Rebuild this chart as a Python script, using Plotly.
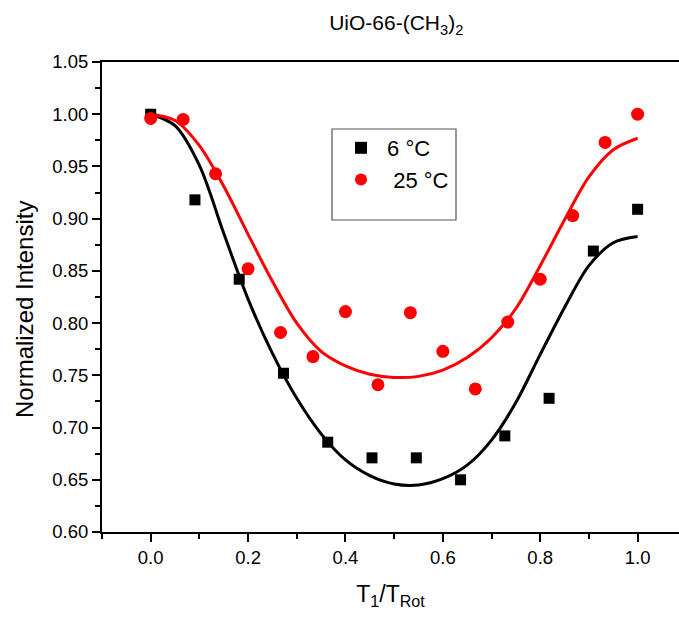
import plotly.graph_objects as go

# ---- data ----
x_6C = [0.0, 0.0909, 0.1818, 0.2727, 0.3636, 0.4545, 0.5455, 0.6364, 0.7273, 0.8182, 0.9091, 1.0]
y_6C = [1.000, 0.918, 0.842, 0.752, 0.686, 0.671, 0.671, 0.650, 0.692, 0.728, 0.869, 0.909]

x_25C = [0.0, 0.0667, 0.1333, 0.2, 0.2667, 0.3333, 0.4, 0.4667, 0.5333, 0.6, 0.6667, 0.7333,
         0.8, 0.8667, 0.9333, 1.0]
y_25C = [0.996, 0.995, 0.943, 0.852, 0.791, 0.768, 0.811, 0.741, 0.810, 0.773, 0.737, 0.801,
         0.842, 0.903, 0.973, 1.000]

fit_x = [0.0, 0.05, 0.1, 0.15, 0.2, 0.25, 0.3, 0.35, 0.4, 0.45, 0.5, 0.55, 0.6, 0.65, 0.7,
         0.75, 0.8, 0.85, 0.9, 0.95, 1.0]
fit_6C = [1.000, 0.989, 0.951, 0.886, 0.823, 0.771, 0.728, 0.694, 0.669, 0.654, 0.646, 0.645,
          0.651, 0.664, 0.688, 0.724, 0.770, 0.815, 0.855, 0.877, 0.883]
fit_25C = [1.000, 0.994, 0.970, 0.931, 0.885, 0.840, 0.800, 0.773, 0.759, 0.751, 0.748, 0.749,
           0.755, 0.767, 0.786, 0.814, 0.855, 0.899, 0.940, 0.966, 0.977]

labels = [" 6 \u00b0C", "  25 \u00b0C"]
title_text = "UiO-66-(CH<sub>3</sub>)<sub>2</sub>"
x_title = "T<sub>1</sub>/T<sub>Rot</sub>"
y_title = "Normalized Intensity"

FONT = "Liberation Sans, Arial, sans-serif"
W, H = 679, 618
L, R, T, B = 102, 0, 62, 86
PW, PH = W - L - R, H - T - B

fig = go.Figure()
fig.add_trace(go.Scatter(x=fit_x, y=fit_6C, mode="lines",
                         line=dict(color="black", width=3, shape="spline", smoothing=0.9),
                         showlegend=False, hoverinfo="skip"))
fig.add_trace(go.Scatter(x=fit_x, y=fit_25C, mode="lines",
                         line=dict(color="#ff0000", width=3, shape="spline", smoothing=0.9),
                         showlegend=False, hoverinfo="skip"))
fig.add_trace(go.Scatter(x=x_6C, y=y_6C, mode="markers", name=labels[0],
                         marker=dict(symbol="square", size=11, color="black")))
fig.add_trace(go.Scatter(x=x_25C, y=y_25C, mode="markers", name=labels[1],
                         marker=dict(symbol="circle", size=13, color="#ff0000")))

fig.update_layout(
    width=W, height=H,
    margin=dict(l=L, r=R, t=T, b=B),
    plot_bgcolor="white", paper_bgcolor="white",
    font=dict(family=FONT, color="black", size=18),
    title=dict(text=title_text, x=0.51, xref="paper", xanchor="center",
               y=1 - 23 / H, yref="container", yanchor="middle",
               font=dict(size=21, family=FONT, color="black")),
    legend=dict(x=(341 - L) / PW, y=(H - B - 127) / PH, xanchor="left", yanchor="top",
                bgcolor="rgba(0,0,0,0)", borderwidth=0, font=dict(size=22, family=FONT),
                itemsizing="constant", tracegroupgap=0),
    shapes=[dict(type="rect", xref="paper", yref="paper",
                 x0=(332 - L) / PW, x1=(456 - L) / PW,
                 y0=(H - B - 220) / PH, y1=(H - B - 129) / PH,
                 line=dict(color="#555555", width=1.2), fillcolor="rgba(0,0,0,0)", layer="below")],
    annotations=[dict(text=y_title, textangle=-90, xref="paper", yref="paper",
                      x=(24 - L) / PW, y=(H - B - 310) / PH, xanchor="center", yanchor="middle",
                      showarrow=False, font=dict(size=24, family=FONT, color="black"))],
)

fig.update_xaxes(
    range=[-0.1, 1.085], showgrid=False, zeroline=False,
    showline=True, linecolor="black", linewidth=2, mirror=True,
    ticks="outside", ticklen=8, tickwidth=2, tickcolor="black",
    tick0=0, dtick=0.2, tickformat=".1f",
    minor=dict(ticks="outside", ticklen=5, tickwidth=2, tickcolor="black", dtick=0.1, tick0=0, showgrid=False),
    tickfont=dict(size=18.5, family=FONT),
    title=dict(text=x_title, font=dict(size=23, family=FONT), standoff=19),
)
fig.update_yaxes(
    range=[0.60, 1.05], showgrid=False, zeroline=False,
    showline=True, linecolor="black", linewidth=2, mirror=False,
    ticks="outside", ticklen=8, tickwidth=2, tickcolor="black",
    tick0=0.6, dtick=0.05, tickformat=".2f",
    minor=dict(ticks="outside", ticklen=5, tickwidth=2, tickcolor="black", dtick=0.025, showgrid=False),
    tickfont=dict(size=18.5, family=FONT),
)

fig.write_html("out.html")
